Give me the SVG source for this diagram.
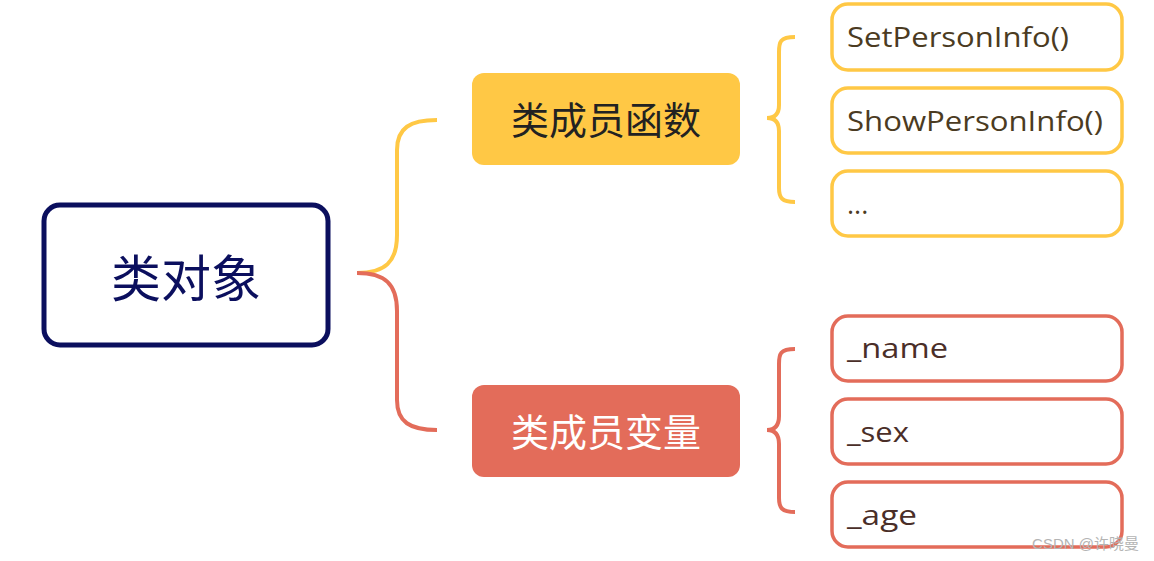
<svg xmlns="http://www.w3.org/2000/svg" width="1154" height="561" viewBox="0 0 1154 561">
<style>
.yl{fill:none;stroke:#FFC845;stroke-width:4;stroke-linecap:butt}
.rl{fill:none;stroke:#E36C5A;stroke-width:4;stroke-linecap:butt}
.leafY{fill:#fff;stroke:#FFC845;stroke-width:3.5}
.leafR{fill:#fff;stroke:#E36C5A;stroke-width:3.5}
.lt{font-family:"Open Sans","Noto Sans",sans-serif;font-size:27px;fill:#4b3b22}
.ltr{font-family:"Open Sans","Noto Sans",sans-serif;font-size:27px;fill:#4a2e28}
.cjk{font-family:"Noto Sans CJK SC",sans-serif}
</style>
<rect width="1154" height="561" fill="#fff"/>
<g id="connectors">
<path class="yl" d="M357,273 C385,273 397,262 397,235 L397,150 C397,128 410,120 437,120"/>
<path class="rl" d="M357,273 C385,273 397,284 397,311 L397,400 C397,422 410,430 437,430"/>
<path class="yl" d="M795,37 C780,37 779,42 779,52 L779,105 C779,114 775,118 767,118 C775,118 779,122 779,131 L779,188 C779,198 782,202 795,202"/>
<path class="rl" d="M795,349 C780,349 779,354 779,364 L779,416 C779,425 775,430 767,430 C775,430 779,435 779,444 L779,498 C779,508 782,512 795,512"/>
</g>
<g id="root">
<rect x="44" y="205" width="284" height="140" rx="16" fill="#fff" stroke="#0b0f5e" stroke-width="5"/>
<text x="186" y="297" text-anchor="middle" class="cjk" font-size="50" fill="#0b0f5e">类对象</text>
</g>
<g id="funcs">
<rect x="472" y="73" width="268" height="92" rx="12" fill="#FFC845"/>
<text x="606" y="134" text-anchor="middle" class="cjk" font-size="38" fill="#222">类成员函数</text>
</g>
<g id="vars">
<rect x="472" y="385" width="268" height="92" rx="12" fill="#E36C5A"/>
<text x="606" y="446" text-anchor="middle" class="cjk" font-size="38" fill="#fff">类成员变量</text>
</g>
<g id="leaf-set">
<rect class="leafY" x="832" y="4" width="290" height="66" rx="16"/>
<text class="lt" x="847" y="47" textLength="222" lengthAdjust="spacingAndGlyphs">SetPersonInfo()</text>
</g>
<g id="leaf-show">
<rect class="leafY" x="832" y="88" width="290" height="65" rx="16"/>
<text class="lt" x="847" y="131" textLength="256" lengthAdjust="spacingAndGlyphs">ShowPersonInfo()</text>
</g>
<g id="leaf-more">
<rect class="leafY" x="832" y="171" width="290" height="65" rx="16"/>
<text class="lt" x="847" y="214" font-size="18">...</text>
</g>
<g id="leaf-name">
<rect class="leafR" x="832" y="316" width="290" height="65" rx="16"/>
<text class="ltr" x="847" y="358" textLength="101" lengthAdjust="spacingAndGlyphs">_name</text>
</g>
<g id="leaf-sex">
<rect class="leafR" x="832" y="399" width="290" height="65" rx="16"/>
<text class="ltr" x="847" y="442" textLength="62" lengthAdjust="spacingAndGlyphs">_sex</text>
</g>
<g id="leaf-age">
<rect class="leafR" x="832" y="482" width="290" height="65" rx="16"/>
<text class="ltr" x="847" y="525" textLength="70" lengthAdjust="spacingAndGlyphs">_age</text>
</g>
<text x="1139" y="549" text-anchor="end" font-family="'Liberation Sans','Noto Sans CJK SC',sans-serif" font-size="15" fill="#b4b4b4">CSDN @许晓曼</text>
</svg>
